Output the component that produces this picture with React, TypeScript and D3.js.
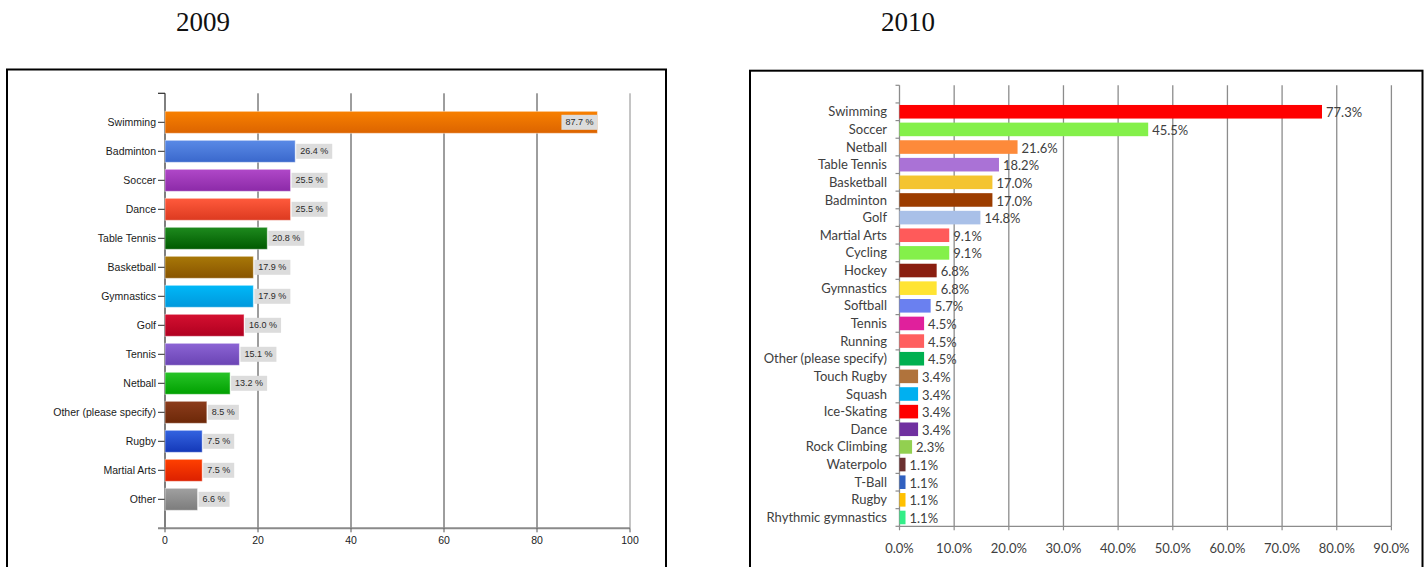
import React from "react";
import * as d3 from "d3";

// ---------- 2009 data ----------
const cats2009 = [
  "Swimming", "Badminton", "Soccer", "Dance", "Table Tennis", "Basketball", "Gymnastics",
  "Golf", "Tennis", "Netball", "Other (please specify)", "Rugby", "Martial Arts", "Other",
];
// bar lengths (respondent counts)
const counts2009 = [93, 28, 27, 27, 22, 19, 19, 17, 16, 14, 9, 8, 8, 7];
// printed labels (percent)
const pct2009 = [87.7, 26.4, 25.5, 25.5, 20.8, 17.9, 17.9, 16.0, 15.1, 13.2, 8.5, 7.5, 7.5, 6.6];
const ticks2009 = [0, 20, 40, 60, 80, 100];

const top2009 = ["#f88000", "#5a8ae6", "#b048c8", "#ff5a3c", "#1e8a1e", "#a87808", "#00b8f8",
  "#d41030", "#8c64d4", "#28c428", "#8c3c1c", "#3464e0", "#ff4000", "#a0a0a0"];
const bot2009 = ["#dc6400", "#3a68cc", "#8c2aa8", "#dc3a20", "#005a00", "#885400", "#0098dc",
  "#b00020", "#6a44b4", "#00a000", "#6c2808", "#1438b8", "#dc2000", "#7c7c7c"];

// ---------- 2010 data ----------
const cats2010 = [
  "Swimming", "Soccer", "Netball", "Table Tennis", "Basketball", "Badminton", "Golf",
  "Martial Arts", "Cycling", "Hockey", "Gymnastics", "Softball", "Tennis", "Running",
  "Other (please specify)", "Touch Rugby", "Squash", "Ice-Skating", "Dance", "Rock Climbing",
  "Waterpolo", "T-Ball", "Rugby", "Rhythmic gymnastics",
];
const vals2010 = [77.3, 45.5, 21.6, 18.2, 17.0, 17.0, 14.8, 9.1, 9.1, 6.8, 6.8, 5.7, 4.5, 4.5,
  4.5, 3.4, 3.4, 3.4, 3.4, 2.3, 1.1, 1.1, 1.1, 1.1];
const ticks2010 = [0, 10, 20, 30, 40, 50, 60, 70, 80, 90];
const colors2010 = ["#ff0000", "#84f04a", "#fd8a3a", "#aa72d6", "#f4c430", "#9c3d00", "#a9c0e8",
  "#ff5a5a", "#84f04a", "#8a1e10", "#ffe433", "#6a80f0", "#e0209c", "#ff5f5f", "#00b050",
  "#b0733c", "#00b0f0", "#ff0000", "#7030a0", "#92d050", "#6b3030", "#3060c0", "#ffc000", "#33ee88"];

// Arial glyph widths (em) for label box sizing
const glyphW: Record<string, number> = { ".": 0.278, " ": 0.278, "%": 0.889 };
const textW = (s: string, size: number) =>
  s.split("").reduce((a, c) => a + (glyphW[c] ?? 0.556), 0) * size;

function Chart2009() {
  const x = d3.scaleLinear().domain([0, 100]).range([165, 630]);
  const y = d3.scalePoint<string>().domain(cats2009).range([93.3, 528.3]).padding(1);
  const barH = 22;
  const font = "'Liberation Sans', Arial, sans-serif";
  const [yTop, yBot] = y.range();
  return (
    <g>
      <defs>
        {cats2009.map((c, i) => (
          <linearGradient key={c} id={`g09-${i}`} x1="0" y1="0" x2="0" y2="1">
            <stop offset="0" stopColor={top2009[i]} />
            <stop offset="1" stopColor={bot2009[i]} />
          </linearGradient>
        ))}
      </defs>
      <rect x={7} y={69.5} width={659} height={520} fill="#fff" stroke="#000" strokeWidth={2} />
      {/* gridlines */}
      {ticks2009.slice(1).map((t) => (
        <line key={t} x1={x(t)} x2={x(t)} y1={yTop} y2={yBot}
          stroke={t === 100 ? "#8a8a8a" : "#3c3c3c"} strokeWidth={1} />
      ))}
      {/* y axis */}
      <line x1={165} x2={165} y1={yTop} y2={yBot} stroke="#2a2a2a" strokeWidth={1.2} />
      <line x1={158} x2={165} y1={yTop} y2={yTop} stroke="#2a2a2a" strokeWidth={1.2} />
      {cats2009.map((c) => (
        <g key={c}>
          <line x1={158} x2={165} y1={y(c)} y2={y(c)} stroke="#2a2a2a" strokeWidth={1} />
          <text x={156} y={y(c)!} dy="0.35em" textAnchor="end" fontFamily={font}
            fontSize={10.5} fill="#1a1a1a">{c}</text>
        </g>
      ))}
      {/* x axis */}
      <line x1={158} x2={x(100)} y1={yBot} y2={yBot} stroke="#8a8a8a" strokeWidth={2} />
      {ticks2009.map((t) => (
        <g key={t}>
          <line x1={x(t)} x2={x(t)} y1={yBot} y2={yBot + 4} stroke="#555" strokeWidth={1} />
          <text x={x(t)} y={yBot + 16} textAnchor="middle" fontFamily={font} fontSize={10.5}
            fill="#1a1a1a">{t}</text>
        </g>
      ))}
      {/* bars */}
      {cats2009.map((c, i) => {
        const cy = y(c)!;
        const end = x(counts2009[i]);
        const label = `${pct2009[i].toFixed(1)} %`;
        const bw = textW(label, 9) + 8;
        const inside = end + bw > 630;
        const bx = inside ? end - bw : end + 1;
        return (
          <g key={c}>
            <rect x={x(0)} y={cy - barH / 2} width={end - x(0)} height={barH}
              fill={`url(#g09-${i})`} stroke="rgba(255,255,255,0.45)" strokeWidth={1} />
            <rect x={bx} y={cy - 7.5} width={bw} height={15} fill="#dcdcdc" />
            <text x={bx + 4} y={cy} dy="0.35em" fontFamily={font} fontSize={9}
              fill="#2a2a2a">{label}</text>
          </g>
        );
      })}
      <text x={203} y={31} textAnchor="middle" fontFamily="'Liberation Serif', serif"
        fontSize={27} fill="#111">2009</text>
    </g>
  );
}

function Chart2010() {
  const top = 85.3, bot = 526.3;
  const step = (bot - top) / (cats2010.length + 1);
  const x = d3.scaleLinear().domain([0, 90]).range([899.5, 1391.4]);
  const y = d3.scaleBand<string>().domain(cats2010).range([top + step, bot])
    .paddingInner(0.23).paddingOuter(0.115);
  const font = "Lato, 'Open Sans', sans-serif";
  const grid = "#8c8c8c";
  const boundaries = d3.range(cats2010.length + 2).map((k) => top + k * step);
  return (
    <g>
      <rect x={750} y={70.7} width={672.5} height={520} fill="#fff" stroke="#000" strokeWidth={2} />
      {ticks2010.slice(1).map((t) => (
        <line key={t} x1={x(t)} x2={x(t)} y1={top} y2={bot} stroke={grid} strokeWidth={1.3} />
      ))}
      <line x1={x(0)} x2={x(0)} y1={top} y2={bot} stroke={grid} strokeWidth={1.3} />
      {boundaries.map((b, k) => (
        <line key={k} x1={x(0) - 4} x2={x(0)} y1={b} y2={b} stroke={grid} strokeWidth={1.2} />
      ))}
      <line x1={x(0)} x2={x(90)} y1={bot} y2={bot} stroke={grid} strokeWidth={1.3} />
      {ticks2010.map((t) => (
        <g key={t}>
          <line x1={x(t)} x2={x(t)} y1={bot} y2={bot + 4} stroke={grid} strokeWidth={1.2} />
          <text x={x(t)} y={bot + 22} dy="0.35em" textAnchor="middle" fontFamily={font}
            fontSize={13} fill="#404040">{`${t.toFixed(1)}%`}</text>
        </g>
      ))}
      {cats2010.map((c, i) => {
        const yy = y(c)!;
        const cy = yy + y.bandwidth() / 2;
        const end = x(vals2010[i]);
        return (
          <g key={c}>
            <text x={887} y={cy} dy="0.35em" textAnchor="end" fontFamily={font} fontSize={13}
              fill="#404040">{c}</text>
            <rect x={x(0)} y={yy} width={end - x(0)} height={y.bandwidth()} fill={colors2010[i]} />
            <text x={end + 4} y={cy + 1} dy="0.35em" fontFamily={font} fontSize={13}
              fill="#404040">{`${vals2010[i].toFixed(1)}%`}</text>
          </g>
        );
      })}
      <text x={908} y={31} textAnchor="middle" fontFamily="'Liberation Serif', serif"
        fontSize={27} fill="#111">2010</text>
    </g>
  );
}

export default function App() {
  return (
    <svg width={1427} height={567} style={{ position: "absolute", left: 0, top: 0, background: "#fff" }}>
      <rect x={0} y={0} width={1427} height={567} fill="#fff" />
      <Chart2009 />
      <Chart2010 />
    </svg>
  );
}
